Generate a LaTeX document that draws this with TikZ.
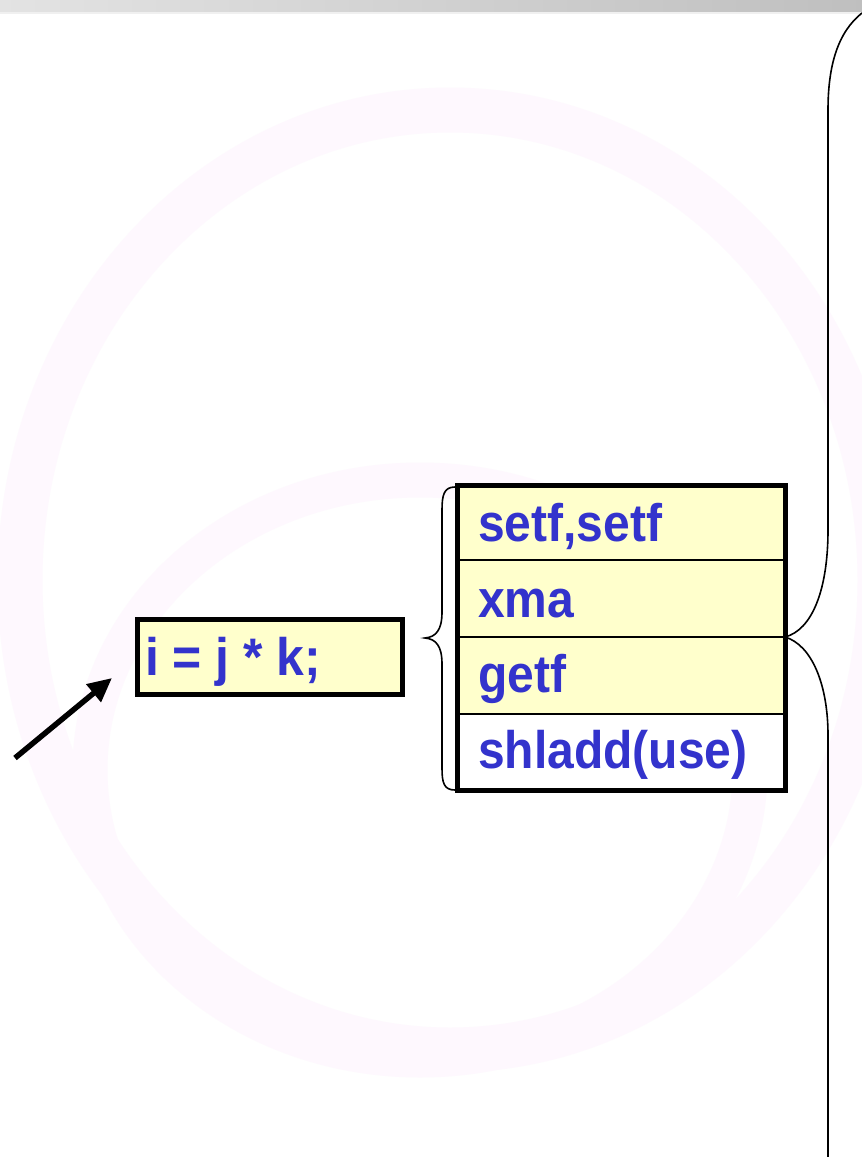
\documentclass[tikz,border=0pt]{standalone}
\usepackage{fontspec}
\setmainfont{Liberation Sans}
\usetikzlibrary{arrows.meta}
\definecolor{txtblue}{RGB}{51,51,204}
\definecolor{cellyellow}{RGB}{255,255,204}
\definecolor{swirl}{RGB}{254,248,254}
\begin{document}
\begin{tikzpicture}[x=1pt,y=-1pt,
  cell/.style={draw=black,line width=2pt,fill=cellyellow,minimum width=328pt,anchor=north west,inner sep=0pt,outer sep=0pt},
  lbl/.style={anchor=base west,inner sep=0pt,outer sep=0pt,text=txtblue,font=\fontsize{48}{48}\selectfont\bfseries},
  bracestyle/.style={draw=black,line width=1.6pt}]
\useasboundingbox (0,0) rectangle (862,1157);
\fill[white] (0,0) rectangle (862,1157);
% faint background swirl
\draw[swirl,line width=45pt] (450,580) ellipse [x radius=430, y radius=470];
\draw[swirl,line width=35pt] (420,770) ellipse [x radius=330, y radius=290];
% top bar
\shade[left color=gray!22, right color=gray!50] (0,0) rectangle (862,12);
\fill[gray!12] (0,12) rectangle (862,14);
% table rows
\node[cell,minimum height=75pt] (r1) at (457,485) {};
\node[cell,minimum height=77pt] (r2) at (457,560) {};
\node[cell,minimum height=77pt] (r3) at (457,637) {};
\node[cell,minimum height=76pt,fill=white] (r4) at (457,714) {};
\draw[line width=5pt] (r1.north west) rectangle (r4.south east);
\node[lbl] (t1) at (478,541) {\scalebox{1}[1.1]{setf,setf}};
\node[lbl] (t2) at (478,617) {\scalebox{1}[1.1]{xma}};
\node[lbl] (t3) at (478,692) {\scalebox{1}[1.1]{getf}};
\node[lbl] (t4) at (478,768) {\scalebox{1}[1.1]{shladd(use)}};
% statement box
\node[draw=black,line width=5pt,fill=cellyellow,minimum width=265pt,minimum height=75pt,anchor=north west,inner sep=0pt,outer sep=0pt] (stmt) at (137.5,619.5) {};
\node[lbl] (st) at (145,675) {\scalebox{1.04}[1.1]{i = j * k;}};
% arrow
\coordinate (astart) at (15,758);
\coordinate (aend) at (112,678);
\draw[line width=5.5pt,-{Triangle[length=24pt,width=22pt]}] (astart) -- (aend);
% left brace
\draw[bracestyle] (455,487) .. controls (444,487) and (442,495) .. (442,510) -- (442,612) .. controls (442,630) and (436,637) .. (425,638) .. controls (436,639) and (442,646) .. (442,664) -- (442,768) .. controls (442,783) and (444,790) .. (455,790);
% right braces
\coordinate (rtip) at (r2.south east);
\draw[bracestyle] (862,13) .. controls (838,32) and (828,65) .. (828,110) -- (828,530) .. controls (828,590) and (812,630) .. (rtip);
\draw[bracestyle] (rtip) .. controls (812,645) and (828,685) .. (828,735) -- (828,1157);
\end{tikzpicture}
\end{document}
